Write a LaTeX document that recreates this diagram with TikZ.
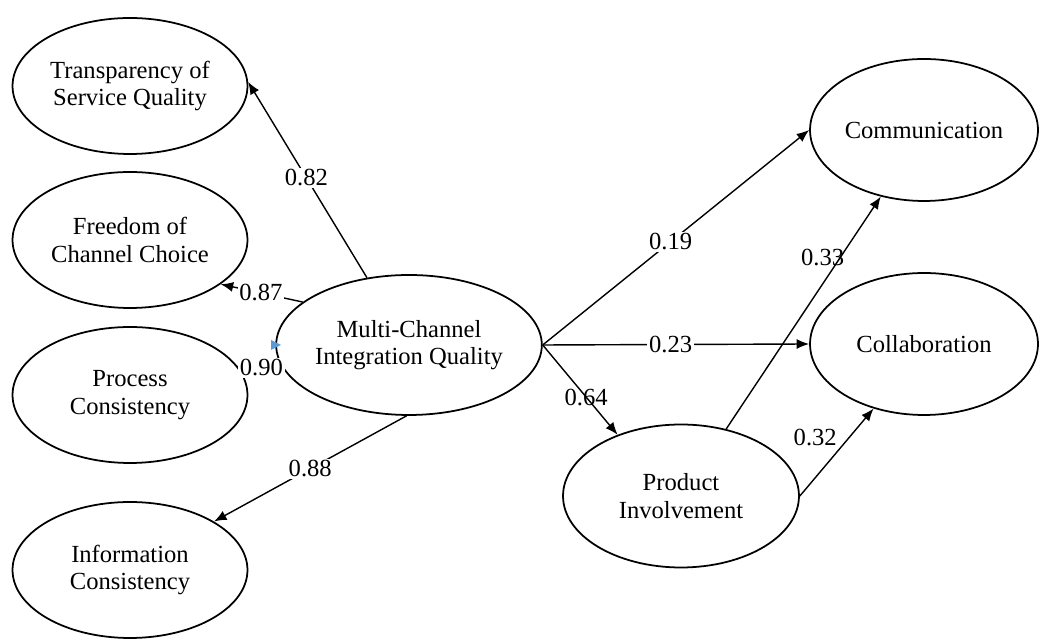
\documentclass[tikz,border=0pt]{standalone}
\usepackage{fontspec}
\setmainfont{Liberation Serif}
\usetikzlibrary{arrows.meta,shapes.geometric}
\definecolor{tipblue}{RGB}{91,155,213}

\tikzset{
  construct/.style={draw, ellipse, line width=1pt, align=center, inner sep=0pt},
  path/.style={thick, -{Latex[length=2.5mm,width=2mm]}},
  coef/.style={fill=white, inner sep=1pt},
  coefbare/.style={inner sep=1pt}
}

\begin{document}
\begin{tikzpicture}[x=0.02cm, y=-0.02cm, font=\fontsize{14}{15.5}\selectfont]
  \useasboundingbox (0,0) rectangle (1039,644);

  % latent constructs
  \node (tsq) at (130,86) [construct, minimum width=4.7cm, minimum height=2.72cm] {Transparency of\\Service Quality};
  \node (fcc) at (130,240) [construct, minimum width=4.7cm, minimum height=2.72cm] {Freedom of\\Channel Choice};
  \node (pc) at (130,395) [construct, minimum width=4.7cm, minimum height=2.72cm] {Process\\Consistency};
  \node (ic) at (130,570) [construct, minimum width=4.7cm, minimum height=2.72cm] {Information\\Consistency};
  \node (mciq) at (409,345) [construct, minimum width=4.76cm, minimum height=2.8cm] {Multi-Channel\\Integration Quality};
  \node (com) at (924,130) [construct, minimum width=4.56cm, minimum height=2.84cm] {Communication};
  \node (col) at (924,344) [construct, minimum width=4.56cm, minimum height=2.84cm] {Collaboration};
  \node (pi) at (681,496) [construct, minimum width=4.72cm, minimum height=2.86cm] {Product\\Involvement};

  % loadings
  \draw[path] (mciq.122) -- node[coef, pos=0.51]{0.82} (tsq.2);
  \draw[path] (mciq.158) -- node[coef, pos=0.51]{0.87} (fcc.-26);
  \draw[thick] (mciq.191) -- node[coef, pos=0.48]{0.90} (pc.15);
  \draw[path] (mciq.-92) -- node[coef, pos=0.5]{0.88} (ic.30);
  \fill[tipblue] (271,340) -- (281,345) -- (271,350) -- cycle;

  % structural paths
  \draw[path] (mciq.east) -- node[coef, pos=0.48]{0.19} (com.west);
  \draw[path] (mciq.east) -- node[coef, pos=0.48]{0.23} (col.west);
  \draw[path] (mciq.east) -- node[coefbare, pos=0.58]{0.64} (pi.136);
  \draw[path] (pi.56) -- node[coefbare, pos=0.74, xshift=-0.36cm]{0.33} (com.-123);
  \draw[path] (pi.east) -- node[coefbare, pos=0.67, xshift=-0.68cm]{0.32} (col.-128);
\end{tikzpicture}
\end{document}
